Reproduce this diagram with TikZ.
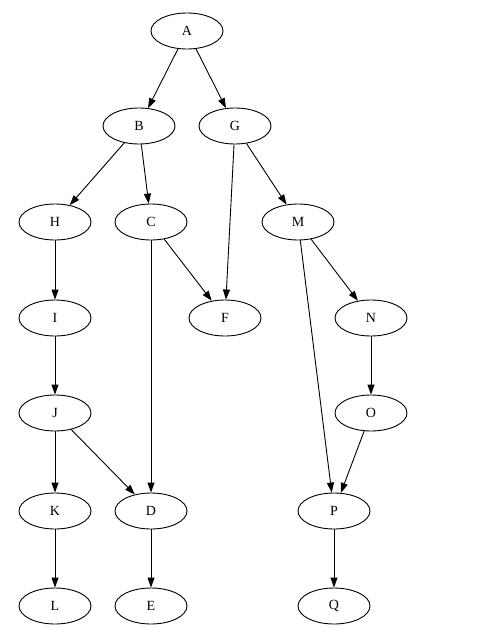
\documentclass[tikz,border=0pt]{standalone}
\usepackage{fontspec}
\setmainfont{Liberation Serif}
\usetikzlibrary{shapes.geometric,arrows.meta}
\begin{document}
\begin{tikzpicture}[x=1pt,y=-1pt,
  gnode/.style={ellipse,draw,line width=0.9pt,minimum width=72pt,minimum height=36pt,inner sep=0pt,font=\fontsize{14}{16}\selectfont},
  gedge/.style={draw,line width=0.9pt,-{Triangle[length=10pt,width=7pt]}}]
\useasboundingbox (0,0) rectangle (483,640);
\node[gnode] (A) at (187,31) {A};
\node[gnode] (B) at (139,126) {B};
\node[gnode] (G) at (235,126) {G};
\node[gnode] (H) at (55,222) {H};
\node[gnode] (C) at (151,222) {C};
\node[gnode] (M) at (298,222) {M};
\node[gnode] (I) at (55,318) {I};
\node[gnode] (F) at (225,318) {F};
\node[gnode] (N) at (371,318) {N};
\node[gnode] (J) at (55,413) {J};
\node[gnode] (O) at (371,413) {O};
\node[gnode] (K) at (55,511) {K};
\node[gnode] (D) at (151,511) {D};
\node[gnode] (P) at (334,511) {P};
\node[gnode] (L) at (55,606) {L};
\node[gnode] (E) at (151,606) {E};
\node[gnode] (Q) at (334,606) {Q};
\foreach \s/\t in {A/B,A/G,B/H,B/C,G/F,G/M,H/I,C/F,C/D,M/N,M/P,I/J,N/O,J/K,J/D,O/P,K/L,D/E,P/Q}
  \draw[gedge] (\s) -- (\t);
\end{tikzpicture}
\end{document}
